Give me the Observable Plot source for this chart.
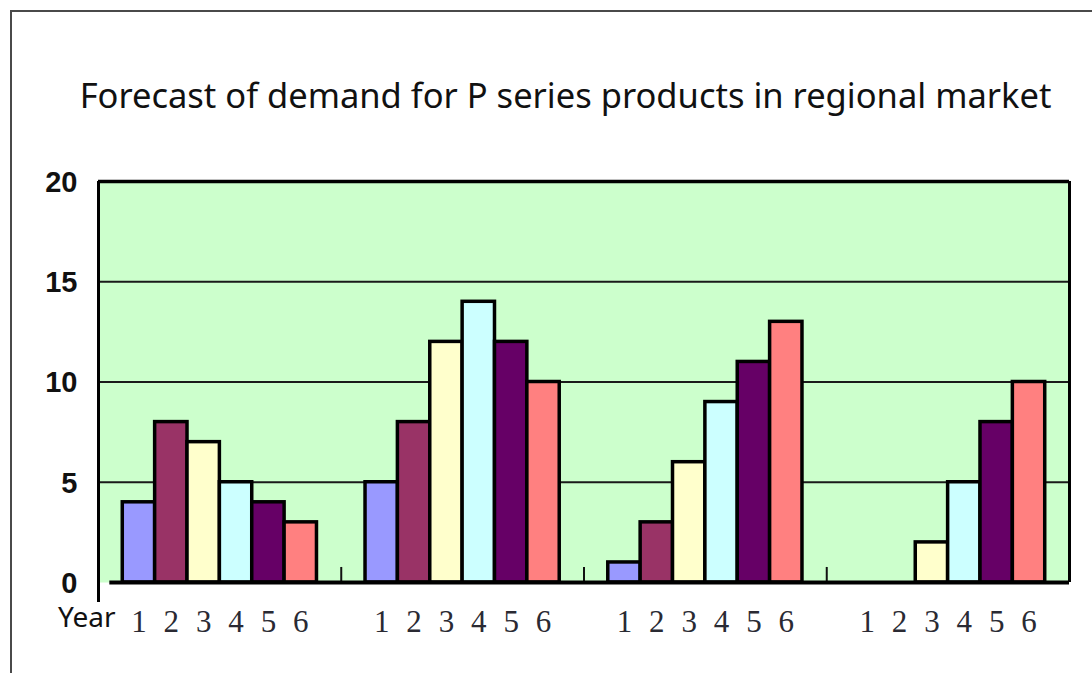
<!DOCTYPE html>
<html>
<head>
<meta charset="utf-8">
<script src="https://cdn.jsdelivr.net/npm/d3@7"></script>
<script src="https://cdn.jsdelivr.net/npm/@observablehq/plot@0.6"></script>
<style>
  html, body { margin: 0; padding: 0; background: #fff; overflow: hidden; }
  #page { position: relative; width: 1092px; height: 673px; overflow: hidden; }
  #border { position: absolute; left: 10px; top: 10px; width: 2000px; height: 2000px;
            border-left: 2px solid #4a4a4a; border-top: 2px solid #4a4a4a; }
  #title { position: absolute; left: 0; width: 1131px; top: 74px; text-align: center;
           font-family: "Noto Sans", sans-serif; font-size: 34.5px; line-height: 1.2; color: #111; white-space: nowrap; }
  #chart { position: absolute; left: 0; top: 0; }
  #year { position: absolute; left: 58px; top: 602px; font-family: "Noto Sans", sans-serif;
          font-size: 28px; line-height: 1; color: #111; }
</style>
</head>
<body>
<div id="page">
  <div id="border"></div>
  <div id="title">Forecast of demand for P series products in regional market</div>
  <div id="chart"></div>
  <div id="year">Year</div>
</div>
<script>
// Forecast demand per year (1–6) in each of the four regional markets
const markets = ["Market 1", "Market 2", "Market 3", "Market 4"];
const years = [1, 2, 3, 4, 5, 6];
const market1 = [4, 8, 7, 5, 4, 3];
const market2 = [5, 8, 12, 14, 12, 10];
const market3 = [1, 3, 6, 9, 11, 13];
const market4 = [0, 0, 2, 5, 8, 10];
const yearColors = ["#9999ff", "#993366", "#ffffcc", "#ccffff", "#660066", "#ff8080"];
const yTicks = [5, 10, 15, 20];

// Each market occupies a slot of 7.5 units on the x axis; its six bars sit in the middle
const slot = 7.5;
const edge = (slot - years.length) / 2;
const series = [market1, market2, market3, market4];
const rows = [];
series.forEach((vals, g) => {
  vals.forEach((v, i) => {
    const x1 = g * slot + edge + i;
    rows.push({market: markets[g], year: years[i], value: v, x1, x2: x1 + 1, xc: x1 + 0.5});
  });
});
const separators = markets.slice(1).map((m, g) => (g + 1) * slot);

const labelFont = {fontFamily: "Liberation Sans, Arial, sans-serif", fontWeight: "bold", fontSize: 29, fill: "#111"};

const chart = Plot.plot({
  width: 1092,
  height: 673,
  marginTop: 181,
  marginBottom: 91,
  marginLeft: 98,
  marginRight: 23,
  x: {domain: [0, markets.length * slot], axis: null},
  y: {domain: [0, 20], axis: null},
  color: {domain: years, range: yearColors},
  style: {background: "transparent"},
  marks: [
    Plot.frame({fill: "#ccffcc", stroke: null}),
    Plot.ruleY(yTicks.slice(0, -1), {stroke: "#1a1a1a", strokeWidth: 2}),
    Plot.ruleX(separators, {y1: 0, y2: 0.75, stroke: "#111", strokeWidth: 2}),
    Plot.rectY(rows, {
      x1: "x1", x2: "x2", y1: 0, y2: "value",
      fill: "year", stroke: "#000", strokeWidth: 3.5
    }),
    Plot.ruleY([0], {x1: 0.35, x2: markets.length * slot, stroke: "#000", strokeWidth: 4}),
    Plot.ruleY([20], {stroke: "#000", strokeWidth: 3.5}),
    Plot.ruleX([0], {y1: -1, y2: 20, stroke: "#000", strokeWidth: 3}),
    Plot.ruleX([markets.length * slot], {y1: 0, y2: 20, stroke: "#000", strokeWidth: 3}),
    Plot.text(yTicks, {x: 0, y: d => d, text: d => String(d), textAnchor: "end", dx: -21, dy: 1, ...labelFont}),
    Plot.text([0], {x: 0, y: d => d, text: d => String(d), textAnchor: "end", dx: -21, dy: 1, ...labelFont}),
    Plot.text(rows, {
      x: "xc", y: 0, text: d => String(d.year), dy: 40,
      fontFamily: "Liberation Serif, serif", fontSize: 31, fill: "#2a2a33"
    })
  ]
});
document.getElementById("chart").append(chart);
</script>
</body>
</html>
